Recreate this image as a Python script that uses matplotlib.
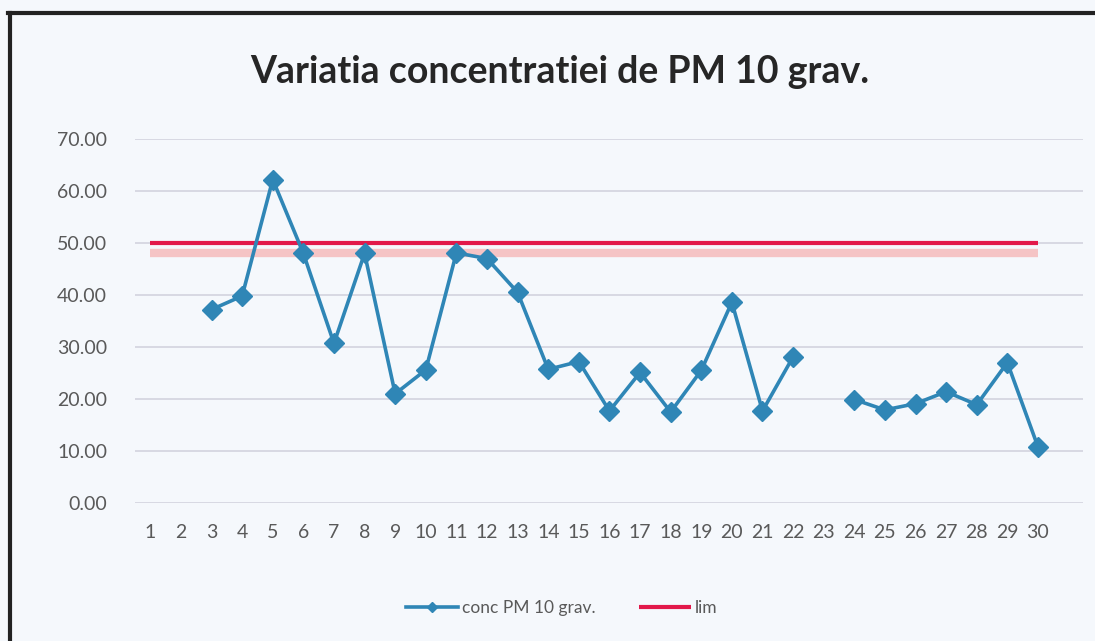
import numpy as np
import matplotlib.pyplot as plt
from matplotlib.lines import Line2D

plt.rcParams['font.family'] = ['Lato', 'DejaVu Sans']

# 数据
days = list(range(1, 31))
conc = [np.nan, np.nan, 37.2, 39.8, 62.2, 48.0, 30.7, 48.0, 21.0, 25.6,
        48.1, 47.0, 40.5, 25.7, 27.2, 17.7, 25.1, 17.5, 25.5, 38.6,
        17.7, 28.1, np.nan, 19.9, 17.9, 19.1, 21.4, 18.9, 27.0, 10.8]
lim = [50.0] * 30
shadow = [48.1] * 30  # pale band from the scan under the red line
yticks = [0, 10, 20, 30, 40, 50, 60, 70]

blue = '#2f86b6'
red = '#e2194a'
bg = '#f5f8fc'

fig = plt.figure(figsize=(10.95, 6.41), dpi=100, facecolor=bg)
ax = fig.add_axes([0.1233, 0.2153, 0.8657, 0.5679], facecolor=bg)

for y in yticks:
    ax.axhline(y, color='#d3d3de', lw=1.2, zorder=0)

ax.plot(days, shadow, color='#f5b3b3', lw=6, alpha=0.75, solid_capstyle='butt', zorder=1)
ax.plot(days, lim, color=red, lw=3, solid_capstyle='butt', zorder=2, label='lim')
ax.plot(days, conc, color=blue, lw=2.6, marker='D', markersize=10,
        markerfacecolor=blue, markeredgecolor=blue, zorder=3, label='conc PM 10 grav.')

ax.set_xlim(0.5, 31.47)
ax.set_ylim(0, 70)
ax.set_yticks(yticks)
ax.set_yticklabels([f'{v:.2f}' for v in yticks])
ax.set_xticks(days)
ax.set_xticklabels([str(d) for d in days])
ax.tick_params(axis='both', length=0, colors='#595959', labelsize=14)
ax.tick_params(axis='x', pad=15)
ax.tick_params(axis='y', pad=20)
for s in ax.spines.values():
    s.set_visible(False)

fig.text(0.511, 0.888, 'Variatia concentratiei de PM 10 grav.', ha='center', va='center',
         fontsize=27, fontweight='bold', color='#262626')

handles, labels = ax.get_legend_handles_labels()
leg = fig.legend(handles[::-1], labels[::-1], loc='center', bbox_to_anchor=(0.513, 0.051),
                 ncol=2, frameon=False, fontsize=12.5, handlelength=3.0, columnspacing=2.5,
                 handletextpad=0.2, markerscale=0.5, labelcolor='#595959')

# border from the scanned page
fig.add_artist(Line2D([0.007, 1.0], [0.979, 0.979], color='#222222', lw=3))
fig.add_artist(Line2D([0.009, 0.009], [0.0, 0.979], color='#222222', lw=3))

fig.savefig('out.png', dpi=100, facecolor=bg)
